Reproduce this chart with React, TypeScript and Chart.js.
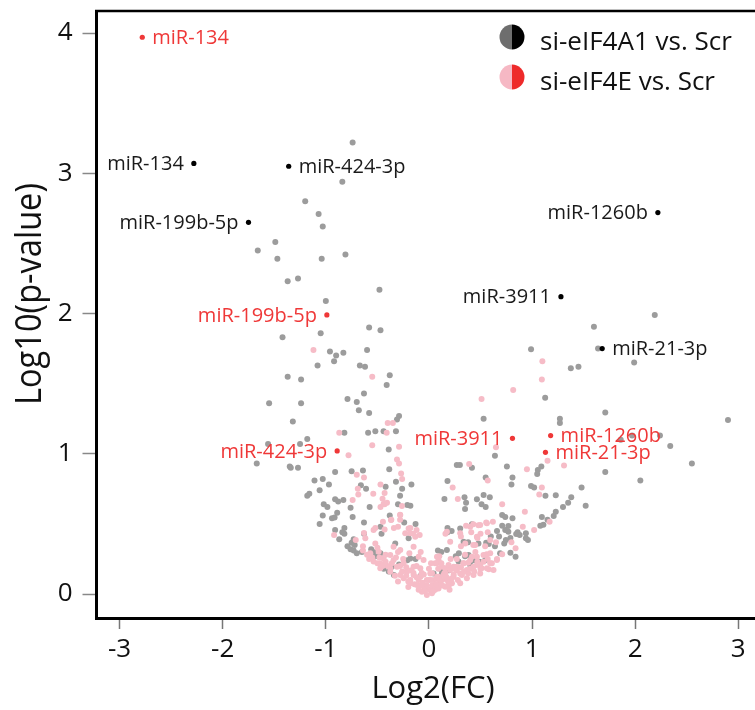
import React, { useEffect, useRef } from "react";
import { Chart, registerables } from "chart.js";

Chart.register(...registerables);

const FONT = "'Open Sans', 'DejaVu Sans', sans-serif";

const xTickValues = [-3, -2, -1, 0, 1, 2, 3];
const yTickValues = [0, 1, 2, 3, 4];
const xTitle = "Log2(FC)";
const yTitle = "Log10(p-value)";
const legendLabels = ["si-eIF4A1 vs. Scr", "si-eIF4E vs. Scr"];

// si-eIF4A1 vs. Scr (grey)
const eif4a1Points: [number, number][] = [
  [-0.74, 3.22], [-0.84, 2.94], [-1.2, 2.8], [-1.07, 2.71], [-1.03, 2.62], [-1.49, 2.51], [-1.66, 2.45], [-1.47, 2.39],
  [-1.04, 2.39], [-0.81, 2.42], [-1.37, 2.23], [-1.27, 2.25], [-0.48, 2.17], [-1.0, 2.09], [-1.05, 1.86], [-1.42, 1.83],
  [-0.58, 1.9], [-0.47, 1.88], [-0.96, 1.73], [-0.9, 1.7], [-0.83, 1.72], [-0.92, 1.66], [-0.6, 1.74], [-1.08, 1.63],
  [-0.67, 1.63], [-0.62, 1.62], [-1.37, 1.55], [-1.24, 1.53], [-0.38, 1.56], [-0.41, 1.49], [-1.55, 1.36], [-1.24, 1.36],
  [-0.63, 1.43], [-0.79, 1.39], [-0.7, 1.37], [-0.68, 1.31], [-0.58, 1.29], [-0.29, 1.27], [-0.31, 1.245], [-1.32, 1.23],
  [-0.44, 1.16], [-0.52, 1.16], [-0.59, 1.15], [-0.32, 1.16], [-0.82, 1.15], [-1.18, 1.105], [-1.56, 1.07], [-1.25, 1.07],
  [-0.39, 1.03], [-1.67, 0.93], [-1.35, 0.91], [-1.27, 0.9], [-1.34, 0.9], [-0.91, 0.87], [-0.75, 0.875], [-0.64, 0.88],
  [-0.385, 0.89], [-0.32, 0.8], [-1.11, 0.81], [-1.03, 0.82], [-0.97, 0.78], [-0.66, 0.775], [-1.06, 0.74], [-0.61, 0.75],
  [-0.42, 0.765], [-0.17, 0.78], [-0.26, 0.75], [-0.28, 0.7], [-1.18, 0.7], [-1.16, 0.715], [-0.91, 0.675], [-0.83, 0.67],
  [-0.88, 0.66], [-1.02, 0.64], [-0.985, 0.62], [-0.76, 0.615], [-0.575, 0.62], [-0.3, 0.64], [-0.18, 0.63], [-0.89, 0.58],
  [-0.94, 0.54], [-0.915, 0.545], [-1.03, 0.56], [-0.74, 0.55], [-0.63, 0.51], [-0.38, 0.56], [-1.06, 0.5], [-0.82, 0.47],
  [-0.84, 0.44], [-0.91, 0.456], [-0.47, 0.48], [-0.46, 0.43], [-0.24, 0.51], [-0.13, 0.5], [-0.87, 0.39], [-0.82, 0.43],
  [-0.73, 0.39], [-0.75, 0.366], [-0.72, 0.35], [-0.79, 0.34], [-0.76, 0.32], [-0.73, 0.31], [-0.7, 0.29], [-0.56, 0.32],
  [-0.54, 0.3], [-0.47, 0.29], [-0.5, 0.27], [-0.54, 0.27], [-0.39, 0.16], [-0.34, 0.135], [-0.29, 0.21], [-0.21, 0.24],
  [-0.13, 0.25], [-0.47, 0.21], [-0.44, 0.18], [-0.08, 0.13], [-0.21, 0.635], [-0.197, 0.397], [-0.63, 0.43], [-0.65, 0.3],
  [-0.327, 0.361], [-0.36, 0.195], [-0.181, 0.254], [0.174, 0.314], [0.303, 0.468], [0.336, 0.373], [0.384, 0.278],
  [0.287, 0.231], [0.4, 0.207], [1.376, 1.61], [1.45, 1.62], [1.99, 1.65], [1.127, 1.4], [1.71, 1.295], [1.27, 1.25],
  [1.27, 1.22], [0.53, 1.25], [1.97, 1.13], [2.24, 1.13], [2.34, 1.055], [0.64, 0.986], [0.27, 0.92], [0.3, 0.92],
  [0.417, 0.9], [0.756, 0.91], [1.09, 0.91], [1.056, 0.884], [1.05, 0.856], [1.71, 0.87], [2.05, 0.81], [0.55, 0.83],
  [0.81, 0.83], [0.18, 0.806], [0.8, 0.78], [0.99, 0.77], [1.02, 0.76], [1.48, 0.76], [1.13, 0.7], [1.23, 0.705],
  [0.53, 0.706], [0.59, 0.69], [0.465, 0.675], [0.51, 0.64], [0.55, 0.62], [0.345, 0.69], [0.36, 0.65], [0.35, 0.606],
  [0.15, 0.677], [1.38, 0.69], [1.35, 0.65], [1.3, 0.62], [1.52, 0.63], [1.23, 0.587], [1.21, 0.556], [0.71, 0.563],
  [0.74, 0.55], [0.81, 0.54], [0.77, 0.485], [0.71, 0.487], [1.095, 0.55], [1.15, 0.53], [1.11, 0.494], [1.08, 0.487],
  [0.417, 0.497], [0.18, 0.47], [0.22, 0.45], [0.18, 0.44], [0.66, 0.45], [0.74, 0.456], [0.77, 0.444], [0.6, 0.41],
  [0.68, 0.41], [0.79, 0.4], [0.746, 0.385], [0.86, 0.44], [0.846, 0.428], [0.94, 0.433], [0.88, 0.42], [0.94, 0.397],
  [0.96, 0.385], [0.38, 0.37], [0.555, 0.366], [0.58, 0.356], [0.48, 0.36], [0.73, 0.36], [0.64, 0.34], [0.087, 0.31],
  [0.12, 0.3], [0.26, 0.27], [0.29, 0.29], [0.35, 0.27], [0.43, 0.24], [0.49, 0.23], [0.545, 0.24], [0.79, 0.295],
  [0.84, 0.266], [0.69, 0.29], [0.116, 0.176], [0.045, 0.147], [0.197, 0.17], [0.126, 0.147], [0.093, 0.11],
  [2.19, 1.99], [1.6, 1.905], [0.99, 1.745], [1.64, 1.75], [2.9, 1.24], [1.86, 1.1], [2.55, 0.93],
];

// si-eIF4E vs. Scr (pink)
const eif4ePoints: [number, number][] = [
  [-1.12, 1.74], [-0.55, 1.55], [-0.4, 1.22], [-0.35, 1.22], [-0.41, 1.15], [-0.87, 1.15], [-0.55, 1.06], [-0.29, 1.05],
  [-0.78, 0.99], [-0.31, 0.96], [-0.29, 0.93], [-0.7, 0.85], [-0.63, 0.83], [-0.27, 0.86], [-0.26, 0.82], [-0.69, 0.75],
  [-0.685, 0.71], [-0.47, 0.78], [-0.54, 0.715], [-0.43, 0.72], [-0.45, 0.68], [-0.74, 0.67], [-0.43, 0.64], [-0.47, 0.62],
  [-0.28, 0.565], [-0.28, 0.53], [-0.365, 0.53], [-0.52, 0.47], [-0.43, 0.46], [-0.34, 0.47], [-0.3, 0.48], [-0.18, 0.47],
  [-0.12, 0.456], [-0.15, 0.43], [-0.09, 0.42], [-0.92, 0.42], [-0.63, 0.435], [-0.71, 0.385], [-0.64, 0.34], [-0.64, 0.31],
  [1.1, 1.66], [1.095, 1.53], [0.817, 1.455], [0.51, 1.39], [0.65, 1.046], [1.15, 0.95], [0.39, 0.927], [0.95, 0.89],
  [1.31, 0.917], [0.57, 0.81], [0.23, 0.76], [1.095, 0.76], [1.07, 0.71], [0.28, 0.677], [0.71, 0.64], [0.93, 0.587],
  [1.17, 0.516], [0.91, 0.48], [1.02, 0.456], [0.555, 0.51], [0.62, 0.515], [0.48, 0.49], [0.43, 0.497], [0.16, 0.43],
  [0.31, 0.41], [0.36, 0.487], [0.41, 0.44], [0.5, 0.43], [0.57, 0.44], [0.47, 0.4], [0.8, 0.37], [0.65, 0.37],
  [0.43, 0.35], [0.31, 0.34], [0.545, 0.34], [0.56, 0.283], [0.66, 0.25], [0.71, 0.283], [0.84, 0.326], [0.61, 0.22],
  [0.465, 0.207], [0.58, 0.176], [0.51, 0.183], [0.38, 0.223], [0.417, 0.266], [0.335, 0.22], [0.24, 0.195], [0.27, 0.17],
  [0.16, 0.183], [0.093, 0.24], [0.06, 0.22], [0.03, 0.148], [0.0, 0.1], [0.093, 0.123], [0.16, 0.148], [0.22, 0.11],
  [0.32, 0.135], [0.38, 0.148], [0.19, 0.076], [0.06, 0.052], [0.01, 0.03], [0.126, 0.1],
  [-0.44, 0.642], [-0.407, 0.651], [-0.262, 0.627], [-0.446, 0.516], [-0.368, 0.528], [-0.278, 0.563], [-0.197, 0.468],
  [-0.181, 0.433], [-0.133, 0.409], [-0.23, 0.433], [-0.537, 0.456], [-0.52, 0.361], [-0.617, 0.397], [-0.569, 0.29],
  [-0.488, 0.302], [-0.44, 0.254], [-0.375, 0.278], [-0.343, 0.337], [-0.278, 0.314], [-0.149, 0.337], [-0.1, 0.266],
  [-0.052, 0.242], [-0.084, 0.183], [-0.149, 0.195], [-0.246, 0.219], [-0.31, 0.195], [-0.375, 0.183], [-0.472, 0.219],
  [-0.537, 0.231], [-0.343, 0.242], [-0.213, 0.159], [-0.149, 0.135], [-0.084, 0.124], [-0.02, 0.1], [-0.181, 0.1],
  [-0.246, 0.112], [-0.052, 0.052], [0.013, 0.029], [0.045, 0.064], [0.11, 0.076], [0.174, 0.1], [0.239, 0.124],
  [0.303, 0.147], [0.368, 0.171], [0.432, 0.195], [0.497, 0.207], [0.562, 0.183], [0.626, 0.171], [0.142, 0.135],
  [0.206, 0.171], [0.271, 0.195], [0.336, 0.219], [0.4, 0.242], [0.465, 0.266], [0.529, 0.278], [0.594, 0.29],
  [0.303, 0.433], [0.4, 0.48], [0.497, 0.492], [0.562, 0.504], [0.465, 0.409], [0.206, 0.373], [0.174, 0.444],
  [0.352, 0.361], [0.449, 0.349], [0.594, 0.385], [0.078, 0.266], [0.078, 0.219], [0.126, 0.195], [0.19, 0.207],
  [0.013, 0.147], [0.078, 0.124], [-0.068, 0.017], [-0.02, -0.007], [0.029, 0.005], [0.093, 0.04], [0.158, 0.052],
  [0.223, 0.076], [-0.116, 0.064], [-0.181, 0.076], [-0.278, 0.135], [-0.375, 0.159], [-0.472, 0.183], [0.303, 0.076],
  [0.368, 0.112], [0.432, 0.135], [0.497, 0.147], [0.594, 0.219], [0.659, 0.242],
  [-0.1, 0.1], [-0.06, 0.08], [-0.03, 0.05], [0.03, 0.06], [0.06, 0.03], [-0.1, 0.03], [0.1, 0.1], [-0.2, 0.05],
  [0.2, 0.03], [-0.15, 0.15], [0.15, 0.15], [-0.3, 0.09], [0.25, 0.18], [-0.05, 0.14], [0.05, 0.1], [-0.12, 0.2],
  [0.12, 0.22], [-0.25, 0.25], [0.0, 0.18], [-0.4, 0.2], [0.35, 0.28], [-0.33, 0.13], [-0.42, 0.23], [-0.58, 0.25],
  [-0.22, 0.19], [0.27, 0.25], [0.45, 0.3], [-0.08, 0.3], [0.02, 0.22], [-0.5, 0.33],
  [-0.55, 0.26], [-0.5, 0.22], [-0.45, 0.2], [-0.42, 0.28], [-0.36, 0.22], [-0.32, 0.26], [-0.28, 0.2], [-0.26, 0.16],
  [-0.22, 0.13], [-0.2, 0.09], [-0.17, 0.17], [-0.14, 0.07], [-0.12, 0.12], [-0.09, 0.06], [-0.07, 0.15], [-0.04, 0.02],
  [-0.02, 0.06], [0.02, 0.1], [0.04, 0.02], [0.07, 0.07], [0.09, 0.18], [0.13, 0.06], [0.17, 0.12], [0.2, 0.07],
  [0.24, 0.14], [0.28, 0.1], [0.31, 0.19], [0.34, 0.16], [0.4, 0.18], [0.44, 0.16], [0.5, 0.18], [0.53, 0.23],
  [0.47, 0.23], [0.57, 0.25], [-0.6, 0.28], [-0.48, 0.26], [-0.3, 0.3], [-0.19, 0.29], [0.1, 0.27], [0.21, 0.25],
];

// highlighted miRNAs
const a1HitNames = ["miR-134", "miR-424-3p", "miR-199b-5p", "miR-1260b", "miR-3911", "miR-21-3p"];
const a1HitX = [-2.28, -1.36, -1.75, 2.22, 1.28, 1.68];
const a1HitY = [3.07, 3.05, 2.65, 2.72, 2.12, 1.75];
const a1HitSide = ["left", "right", "left", "left", "left", "right"];

const eHitNames = ["miR-134", "miR-199b-5p", "miR-424-3p", "miR-3911", "miR-1260b", "miR-21-3p"];
const eHitX = [-2.78, -0.99, -0.89, 0.81, 1.18, 1.13];
const eHitY = [3.97, 1.99, 1.02, 1.11, 1.13, 1.01];
const eHitSide = ["right", "left", "left", "left", "right", "right"];

const GREY = "#9c9c9c";
const PINK = "#f6bcc7";
const RED = "#ef3838";
const BLACK = "#000000";

const decorPlugin = {
  id: "decor",
  afterDatasetsDraw(chart: any) {
    const ctx = chart.ctx;
    const drawHitLabels = (dsIndex: number, names: string[], sides: string[], color: string) => {
      const meta = chart.getDatasetMeta(dsIndex);
      ctx.save();
      ctx.font = `20px ${FONT}`;
      ctx.fillStyle = color;
      ctx.textBaseline = "middle";
      meta.data.forEach((el: any, i: number) => {
        const left = sides[i] === "left";
        ctx.textAlign = left ? "right" : "left";
        ctx.fillText(names[i], el.x + (left ? -10 : 10), el.y + 1);
      });
      ctx.restore();
    };
    drawHitLabels(0, a1HitNames, a1HitSide, "#1a1a1a");
    drawHitLabels(1, eHitNames, eHitSide, RED);
  },
  afterDraw(chart: any) {
    const ctx = chart.ctx;
    const area = chart.chartArea;
    ctx.save();
    // top frame line
    ctx.strokeStyle = "#000";
    ctx.lineWidth = 2.5;
    ctx.beginPath();
    ctx.moveTo(area.left - 1.5, area.top);
    ctx.lineTo(chart.width, area.top);
    ctx.stroke();

    // x title
    ctx.fillStyle = "#111";
    ctx.font = `31px ${FONT}`;
    ctx.textAlign = "center";
    ctx.textBaseline = "alphabetic";
    ctx.fillText(xTitle, 433, 698);

    // y title (rotated)
    ctx.font = `36px ${FONT}`;
    const w = ctx.measureText(yTitle).width;
    const sx = 222 / w;
    ctx.save();
    ctx.translate(41, 294);
    ctx.rotate(-Math.PI / 2);
    ctx.scale(sx, 1);
    ctx.textAlign = "center";
    ctx.fillText(yTitle, 0, 0);
    ctx.restore();

    // legend
    const items = [
      { l: "#6e6e6e", r: "#000000", y: 37, base: 50 },
      { l: "#f6b8c4", r: "#ee2a2a", y: 77, base: 90 },
    ];
    items.forEach((it, i) => {
      const cx = 512, r = 12.5;
      ctx.fillStyle = it.l;
      ctx.beginPath();
      ctx.arc(cx, it.y, r, Math.PI / 2, (3 * Math.PI) / 2);
      ctx.closePath();
      ctx.fill();
      ctx.fillStyle = it.r;
      ctx.beginPath();
      ctx.arc(cx, it.y, r, -Math.PI / 2, Math.PI / 2);
      ctx.closePath();
      ctx.fill();
      ctx.fillStyle = "#111";
      ctx.font = `26px ${FONT}`;
      ctx.textAlign = "left";
      ctx.textBaseline = "alphabetic";
      ctx.fillText(legendLabels[i], 540, it.base);
    });
    ctx.restore();
  },
};

export default function App() {
  const ref = useRef<HTMLCanvasElement | null>(null);
  useEffect(() => {
    if (!ref.current) return;
    const chart = new Chart(ref.current, {
      type: "scatter",
      data: {
        datasets: [
          {
            label: "si-eIF4A1 hits",
            data: a1HitX.map((x, i) => ({ x, y: a1HitY[i] })),
            backgroundColor: BLACK,
            pointRadius: 2.6,
            borderWidth: 0,
          },
          {
            label: "si-eIF4E hits",
            data: eHitX.map((x, i) => ({ x, y: eHitY[i] })),
            backgroundColor: RED,
            pointRadius: 2.6,
            borderWidth: 0,
          },
          {
            label: legendLabels[1],
            data: eif4ePoints.map(([x, y]) => ({ x, y })),
            backgroundColor: PINK,
            pointRadius: 3,
            borderWidth: 0,
          },
          {
            label: legendLabels[0],
            data: eif4a1Points.map(([x, y]) => ({ x, y })),
            backgroundColor: GREY,
            pointRadius: 3,
            borderWidth: 0,
          },
        ],
      },
      options: {
        responsive: false,
        animation: false,
        devicePixelRatio: 1,
        layout: { padding: { top: 11, left: 0, right: 0, bottom: 0 }, autoPadding: false },
        plugins: { legend: { display: false }, tooltip: { enabled: false } },
        scales: {
          x: {
            type: "linear",
            min: -3.224,
            max: 3.162,
            afterFit: (s: any) => {
              s.height = 92;
              s.paddingLeft = 0;
              s.paddingRight = 0;
              s.paddingTop = 0;
              s.paddingBottom = 0;
            },
            afterBuildTicks: (s: any) => { s.ticks = xTickValues.map((v) => ({ value: v })); },
            ticks: {
              font: { family: FONT, size: 26 },
              color: "#111",
              padding: 5,
              maxRotation: 0,
              callback: (v: any) => String(v),
            },
            grid: { drawOnChartArea: false, drawTicks: true, tickLength: 11, tickColor: "#777", tickWidth: 1.5 },
            border: { display: true, color: "#000", width: 3 },
          },
          y: {
            type: "linear",
            min: -0.171,
            max: 4.157,
            afterFit: (s: any) => {
              s.width = 96.5;
              s.paddingLeft = 0;
              s.paddingRight = 0;
              s.paddingTop = 0;
              s.paddingBottom = 0;
            },
            afterBuildTicks: (s: any) => { s.ticks = yTickValues.map((v) => ({ value: v })); },
            ticks: {
              font: { family: FONT, size: 26 },
              color: "#111",
              padding: 10,
              callback: (v: any) => String(v),
            },
            grid: { drawOnChartArea: false, drawTicks: true, tickLength: 14, tickColor: "#888", tickWidth: 1.5 },
            border: { display: true, color: "#000", width: 3 },
          },
        },
      },
      plugins: [decorPlugin],
    } as any);
    return () => chart.destroy();
  }, []);
  return (
    <div style={{ position: "absolute", left: 0, top: 0, width: 755, height: 710, background: "#fff" }}>
      <canvas ref={ref} width={755} height={710} style={{ width: 755, height: 710, display: "block" }} />
    </div>
  );
}
